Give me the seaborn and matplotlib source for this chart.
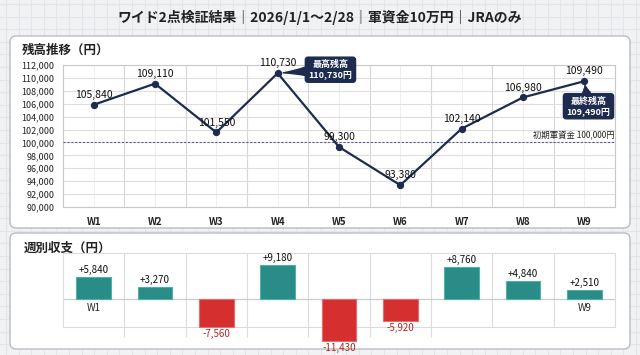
import numpy as np
import pandas as pd
import seaborn as sns
import matplotlib.pyplot as plt
from matplotlib.patches import FancyBboxPatch

weeks = ["W1", "W2", "W3", "W4", "W5", "W6", "W7", "W8", "W9"]
balance = [105840, 109110, 101550, 110730, 99300, 93380, 102140, 106980, 109490]
weekly_pl = [5840, 3270, -7560, 9180, -11430, -5920, 8760, 4840, 2510]
initial_fund = 100000

title = "ワイド2点検証結果｜2026/1/1〜2/28｜軍資金10万円｜JRAのみ"
navy = "#1d2b4f"
teal = "#2a8c86"
red = "#d52f2f"
dark_red = "#b3261e"

sns.set_style("white")
plt.rcParams["font.family"] = ["Noto Sans CJK JP", "DejaVu Sans"]

W, H = 640, 355
fig = plt.figure(figsize=(6.4, 3.55), dpi=100, facecolor="#f1f2f4")


def box(x, y, w, h):
    # pixel box (top-left origin) -> figure fraction rect
    return [x / W, 1 - (y + h) / H, w / W, h / H]


# page background with faint squared paper
bg = fig.add_axes([0, 0, 1, 1], zorder=-10)
bg.set_xlim(0, W)
bg.set_ylim(H, 0)
bg.set_facecolor("#f1f2f4")
bg.set_xticks(np.arange(6, W, 12.6))
bg.set_yticks(np.arange(4, H, 12.6))
bg.grid(True, color="#e3e5e8", lw=0.8)
bg.tick_params(length=0, labelbottom=False, labelleft=False)
for s in bg.spines.values():
    s.set_visible(False)
for (x, y, w, h) in [(10, 36, 620, 192), (10, 233, 620, 116)]:
    bg.add_patch(FancyBboxPatch((x, y), w, h, boxstyle="round,pad=0,rounding_size=6",
                                fc="white", ec="#b9bcc2", lw=1.0))
bg.text(W / 2, 17, title, ha="center", va="center", fontsize=10,
        fontweight="bold", color="#222222")
bg.text(22, 50, "残高推移（円）", ha="left", va="center", fontsize=9,
        fontweight="bold", color="#222222")
bg.text(24, 248, "週別収支（円）", ha="left", va="center", fontsize=9,
        fontweight="bold", color="#222222")

# ---- balance line ----
df = pd.DataFrame({"week": weeks, "balance": balance, "pl": weekly_pl})
df["pos"] = np.arange(len(weeks))

ax = fig.add_axes(box(63, 65, 552, 142))
ax.set_facecolor("white")
sns.lineplot(data=df, x="pos", y="balance", color=navy, lw=1.6, marker="o",
             markersize=4.5, markeredgecolor=navy, sort=False, ax=ax, zorder=5)
ax.set_xlim(-0.5, 8.5)
ax.set_ylim(90000, 112000)
ax.set_yticks(range(90000, 112001, 2000))
ax.set_yticklabels([f"{v:,}" for v in range(90000, 112001, 2000)], fontsize=6.5, color="#222222")
ax.set_xticks(df["pos"])
ax.set_xticklabels(weeks, fontsize=7, fontweight="bold", color="#222222")
ax.set_xticks(np.arange(0.5, 8, 1), minor=True)
ax.tick_params(which="both", length=0)
ax.tick_params(axis="y", pad=6)
ax.tick_params(axis="x", pad=7)
ax.grid(True, axis="y", color="#dedede", lw=0.8)
ax.grid(True, axis="x", which="major", color="#eeeeee", lw=0.7)
ax.grid(True, axis="x", which="minor", color="#d6d6d6", lw=0.8)
ax.set_xlabel("")
ax.set_ylabel("")
for s in ax.spines.values():
    s.set_color("#c8c8c8")
    s.set_linewidth(0.8)

ax.axhline(initial_fund, color="#5b5f95", lw=0.8, ls=(0, (2, 1.5)), zorder=3)
ax.annotate("初期軍資金 100,000円", xy=(8.5, initial_fund), xytext=(0, 1.5),
            textcoords="offset points", ha="right", va="bottom", fontsize=6, color="#222222")

for p, v in zip(df["pos"], balance):
    ax.annotate(f"{v:,}", xy=(p, v), xytext=(0, 3.5), textcoords="offset points",
                ha="center", va="bottom", fontsize=7.5, color="#111111", zorder=6)

imax = int(np.argmax(balance))
ax.annotate(f"最高残高\n{balance[imax]:,}円", xy=(imax, balance[imax]), xytext=(38, 2.5),
            textcoords="offset points", ha="center", va="center", fontsize=6.5,
            fontweight="bold", color="white", linespacing=1.1, zorder=7,
            bbox=dict(boxstyle="round,pad=0.35,rounding_size=0.3", fc=navy, ec=navy),
            arrowprops=dict(arrowstyle="wedge,tail_width=0.9,shrink_factor=0.4",
                            fc=navy, ec=navy, shrinkA=0, shrinkB=4))
ilast = len(balance) - 1
ax.annotate(f"最終残高\n{balance[ilast]:,}円", xy=(ilast, balance[ilast]), xytext=(3, -18),
            textcoords="offset points", ha="center", va="center", fontsize=6.5,
            fontweight="bold", color="white", linespacing=1.1, zorder=7,
            bbox=dict(boxstyle="round,pad=0.35,rounding_size=0.3", fc=navy, ec=navy),
            arrowprops=dict(arrowstyle="wedge,tail_width=0.9,shrink_factor=0.4",
                            fc=navy, ec=navy, shrinkA=0, shrinkB=3))

# ---- weekly P/L bars ----
df["sign"] = np.where(df["pl"] >= 0, "plus", "minus")
bx = fig.add_axes(box(63, 253, 552, 74))
bx.set_facecolor("white")
sns.barplot(data=df, x="pos", y="pl", hue="sign", palette={"plus": teal, "minus": red},
            dodge=False, width=0.56, saturation=1, legend=False, native_scale=True,
            ax=bx, zorder=4)
for patch in bx.patches:
    fc = patch.get_facecolor()
    patch.set_edgecolor("#4fb0a8" if fc[1] > 0.4 else "#e86a6a")
    patch.set_linewidth(0.8)
    patch.set_clip_on(False)
bx.set_xlim(-0.5, 8.5)
bx.set_ylim(-7560, 12430)
bx.set_xticks(np.arange(0.5, 8, 1))
bx.set_yticks([])
bx.tick_params(length=0, labelbottom=False)
bx.set_xlabel("")
bx.set_ylabel("")
bx.grid(False)
bx.vlines(np.arange(6.5, 8, 1), 0, 1, transform=bx.get_xaxis_transform(), color="#dcdcdc", lw=0.8, zorder=1)
bx.vlines(np.arange(0.5, 6, 1), -0.14, 1, transform=bx.get_xaxis_transform(), color="#dcdcdc",
          lw=0.8, zorder=1, clip_on=False)
bx.axhline(0, color="#cccccc", lw=0.9, zorder=2)
for s in bx.spines.values():
    s.set_color("#dcdcdc")
    s.set_linewidth(0.8)

for p, v in zip(df["pos"], weekly_pl):
    if v >= 0:
        bx.annotate(f"+{v:,}", xy=(p, v), xytext=(0, 1.5), textcoords="offset points",
                    ha="center", va="bottom", fontsize=7, color="#111111", annotation_clip=False)
    else:
        bx.annotate(f"{v:,}", xy=(p, v), xytext=(0, -1.5), textcoords="offset points",
                    ha="center", va="top", fontsize=7, color=dark_red, annotation_clip=False)
for i in [0, len(weeks) - 1]:
    bx.annotate(weeks[i], xy=(i, 0), xytext=(0, -3), textcoords="offset points",
                ha="center", va="top", fontsize=7, color="#222222")

fig.savefig("out.png", dpi=100, facecolor=fig.get_facecolor())
